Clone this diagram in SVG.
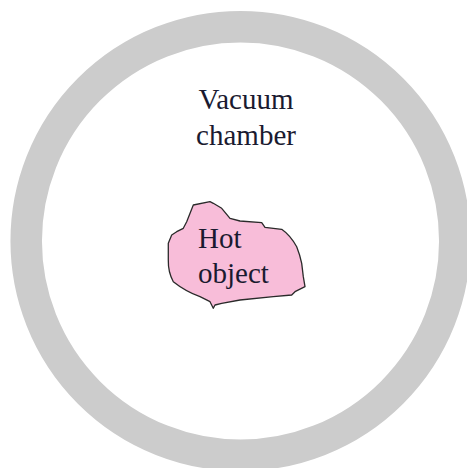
<svg xmlns="http://www.w3.org/2000/svg" width="467" height="468" viewBox="0 0 467 468">
  <style>
    .label { font-family: "Liberation Serif", "Times New Roman", serif; font-size: 29px; fill: #1a1a30; }
    .ring { fill: none; stroke: #cccccc; stroke-width: 31.5; }
    .blob { fill: #f8bdd9; stroke: #2a2a2a; stroke-width: 1.3; stroke-linejoin: round; }
  </style>
  <rect width="467" height="468" fill="#ffffff"/>
  <g id="chamber">
    <circle class="ring" cx="240.5" cy="241" r="214.3"/>
    <text class="label" x="246" y="109" text-anchor="middle">Vacuum</text>
    <text class="label" x="246" y="145" text-anchor="middle">chamber</text>
  </g>
  <g id="hot-object">
    <path class="blob" d="M193.3,205 L210,201.7 L213.3,203.3 L221.7,208.3 L230,218.3 L240,221 L261.7,222.7 L265,227.3 L281.7,229.3 Q290,235 296.7,246.7 Q300,255 301.7,263.3 L303.3,276.7 L305,286.7 L295,291.7 L291.7,295 L273.3,296.7 L240,300 L221.7,303.3 L215,305 L213.3,308.3 L210,301.7 L200,296.7 Q185,291 173.3,281.7 Q168,272 168.3,260 L168.3,243.3 L171.7,235 L176.7,231.7 L183.3,228.3 L186.7,221.7 Z"/>
    <text class="label" x="198" y="248">Hot</text>
    <text class="label" x="198" y="283">object</text>
  </g>
</svg>
